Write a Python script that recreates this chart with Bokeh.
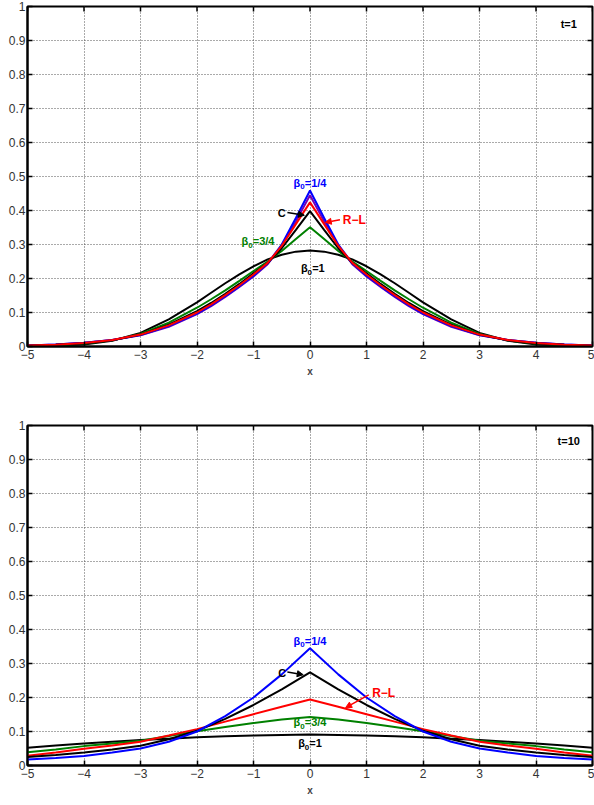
import math
from bokeh.plotting import figure
from bokeh.layouts import column
from bokeh.models import Range1d, Arrow, NormalHead, Label, FixedTicker, NumeralTickFormatter
from bokeh.embed import file_html
from bokeh.resources import INLINE

# ---- data (symmetric about x=0: values for x >= 0) ----
x_half_t1 = [0, 0.25, 0.5, 0.75, 1, 1.25, 1.5, 1.75, 2, 2.5, 3, 3.5, 4, 4.5, 5]
blue_t1   = [0.459, 0.378, 0.300, 0.244, 0.208, 0.177, 0.148, 0.121, 0.097, 0.060, 0.034, 0.019, 0.011, 0.006, 0.003]
purple_t1 = [0.445, 0.368, 0.296, 0.242, 0.206, 0.175, 0.146, 0.119, 0.095, 0.058, 0.033, 0.019, 0.011, 0.006, 0.003]
red_t1    = [0.424, 0.360, 0.296, 0.246, 0.212, 0.180, 0.151, 0.124, 0.100, 0.062, 0.035, 0.019, 0.010, 0.005, 0.003]
caputo_t1 = [0.398, 0.343, 0.289, 0.246, 0.215, 0.184, 0.155, 0.128, 0.104, 0.064, 0.035, 0.018, 0.009, 0.005, 0.002]
green_t1  = [0.351, 0.316, 0.281, 0.250, 0.222, 0.193, 0.165, 0.139, 0.114, 0.070, 0.037, 0.018, 0.008, 0.004, 0.002]
one_t1    = [0.282, 0.279, 0.270, 0.256, 0.236, 0.212, 0.186, 0.158, 0.130, 0.080, 0.040, 0.017, 0.006, 0.002, 0.001]

x_half_t10 = [0, 0.5, 1, 1.5, 2, 2.5, 3, 3.5, 4, 4.5, 5]
blue_t10   = [0.345, 0.268, 0.200, 0.145, 0.100, 0.070, 0.050, 0.038, 0.028, 0.022, 0.018]
caputo_t10 = [0.274, 0.224, 0.178, 0.137, 0.102, 0.077, 0.058, 0.047, 0.038, 0.031, 0.025]
red_t10    = [0.194, 0.173, 0.151, 0.129, 0.107, 0.088, 0.070, 0.059, 0.049, 0.038, 0.029]
green_t10  = [0.143, 0.135, 0.125, 0.113, 0.101, 0.087, 0.073, 0.065, 0.057, 0.047, 0.039]
one_t10    = [0.091, 0.090, 0.088, 0.086, 0.083, 0.079, 0.075, 0.070, 0.065, 0.059, 0.052]

x_ticks = [-5, -4, -3, -2, -1, 0, 1, 2, 3, 4, 5]
y_ticks = [0, 0.1, 0.2, 0.3, 0.4, 0.5, 0.6, 0.7, 0.8, 0.9, 1]

FONT = "Liberation Sans"
BLUE, PURPLE, RED, BLACK, GREEN = "#0000ff", "#7a00b0", "#ff0000", "#000000", "#008000"


def full(xh):
    return [-v for v in xh[::-1]] + list(xh[1:])


def fullv(vh):
    return list(vh[::-1]) + list(vh[1:])


def make_fig(height, top):
    p = figure(width=594, height=height, x_range=Range1d(-5, 5), y_range=Range1d(0, 1),
               output_backend="svg", toolbar_location=None,
               min_border_left=27, min_border_right=2, min_border_top=top,
               min_border_bottom=height - top - 340)
    p.outline_line_color = "black"
    p.outline_line_width = 2
    p.background_fill_color = "white"
    p.border_fill_color = "white"
    p.xaxis.ticker = FixedTicker(ticks=x_ticks)
    p.yaxis.ticker = FixedTicker(ticks=y_ticks)
    p.yaxis.formatter = NumeralTickFormatter(format="0.[0]")
    for ax in (p.xaxis[0], p.yaxis[0]):
        ax.axis_line_width = 2
        ax.axis_line_color = "black"
        ax.major_tick_in = 5
        ax.major_tick_out = 0
        ax.major_tick_line_width = 1.5
        ax.minor_tick_line_color = None
        ax.major_label_text_font = FONT
        ax.major_label_text_font_size = "12px"
        ax.major_label_text_color = "#333333"
    p.xaxis.major_label_standoff = 3
    p.yaxis.major_label_standoff = 2
    p.xaxis.axis_label = "x"
    p.xaxis.axis_label_text_font = FONT
    p.xaxis.axis_label_text_font_style = "bold"
    p.xaxis.axis_label_text_font_size = "10px"
    p.xaxis.axis_label_standoff = 4
    p.grid.grid_line_color = "#555555"
    p.grid.grid_line_dash = "1 2"
    p.grid.grid_line_width = 1
    # inward ticks on the right and top edges of the box
    p.ray(x=[5] * len(y_ticks), y=y_ticks, length=5, length_units="screen",
          angle=math.pi, line_color="black", line_width=1.5)
    p.ray(x=x_ticks, y=[1] * len(x_ticks), length=5, length_units="screen",
          angle=-math.pi / 2, line_color="black", line_width=1.5)
    return p


def label(p, x, y, text, color, align="center", size="11px", xo=0, yo=0):
    p.add_layout(Label(x=x, y=y, text=text, text_color=color, text_font=FONT,
                       text_font_style="bold", text_font_size=size,
                       text_align=align, text_baseline="middle",
                       x_offset=xo, y_offset=yo))


def beta_label(p, x, y, rest, color):
    widths = {"=": 6.4, "1": 6.1, "3": 6.1, "4": 6.1, "/": 3.1}
    w_rest = sum(widths.get(c, 6.1) for c in rest)
    total = 6.6 + 4.6 + w_rest
    left = -total / 2
    label(p, x, y, "β", color, align="left", xo=left)
    label(p, x, y, "0", color, align="left", size="8px", xo=left + 6.6, yo=-4)
    label(p, x, y, rest, color, align="left", xo=left + 6.6 + 4.6)


def arrow(p, x0, y0, x1, y1, color):
    p.add_layout(Arrow(end=NormalHead(size=6, fill_color=color, line_color=color),
                       x_start=x0, y_start=y0, x_end=x1, y_end=y1,
                       line_color=color, line_width=1.5))


# ---- top panel t=1 ----
p1 = make_fig(400, 6)
xt1 = full(x_half_t1)
p1.line(xt1, fullv(one_t1), line_color=BLACK, line_width=2)
p1.line(xt1, fullv(green_t1), line_color=GREEN, line_width=2)
p1.line(xt1, fullv(purple_t1), line_color=PURPLE, line_width=2)
p1.line(xt1, fullv(blue_t1), line_color=BLUE, line_width=2)
p1.line(xt1, fullv(caputo_t1), line_color=BLACK, line_width=2)
p1.line(xt1, fullv(red_t1), line_color=RED, line_width=2)
label(p1, 4.58, 0.95, "t=1", BLACK)
beta_label(p1, 0.0, 0.481, "=1/4", BLUE)
label(p1, -0.5, 0.394, "C", BLACK)
arrow(p1, -0.40, 0.394, -0.10, 0.386, BLACK)
label(p1, 0.58, 0.373, "R−L", RED, align="left", size="12px")
arrow(p1, 0.53, 0.373, 0.27, 0.365, RED)
beta_label(p1, -0.92, 0.309, "=3/4", GREEN)
beta_label(p1, 0.05, 0.230, "=1", BLACK)

# ---- bottom panel t=10 ----
p2 = make_fig(405, 25)
xt10 = full(x_half_t10)
p2.line(xt10, fullv(one_t10), line_color=BLACK, line_width=2)
p2.line(xt10, fullv(green_t10), line_color=GREEN, line_width=2)
p2.line(xt10, fullv(red_t10), line_color=RED, line_width=2)
p2.line(xt10, fullv(caputo_t10), line_color=BLACK, line_width=2)
p2.line(xt10, fullv(blue_t10), line_color=BLUE, line_width=2)
label(p2, 4.58, 0.953, "t=10", BLACK)
beta_label(p2, 0.0, 0.367, "=1/4", BLUE)
label(p2, -0.49, 0.273, "C", BLACK)
arrow(p2, -0.40, 0.275, -0.12, 0.267, BLACK)
label(p2, 1.1, 0.212, "R−L", RED, align="left", size="12px")
arrow(p2, 1.04, 0.208, 0.63, 0.170, RED)
beta_label(p2, 0.0, 0.127, "=3/4", GREEN)
beta_label(p2, 0.0, 0.065, "=1", BLACK)

layout = column(p1, p2, spacing=0)
open("out.html", "w").write(file_html(layout, INLINE))
